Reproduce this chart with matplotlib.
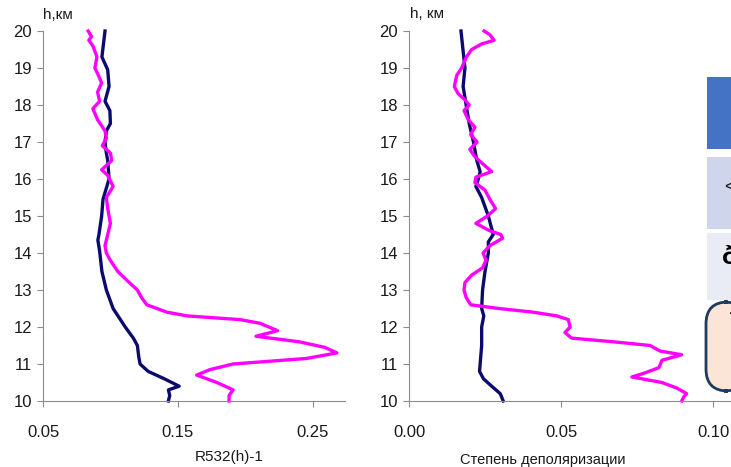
import matplotlib.pyplot as plt
from matplotlib.patches import Rectangle, FancyBboxPatch

plt.rcParams['font.family'] = ['Liberation Sans', 'DejaVu Sans']

# Left panel: backscatter ratio R532(h)-1
h_left_navy = [20.0, 19.3, 18.95, 18.5, 18.1, 17.85, 17.5, 17.3, 17.0, 16.7, 16.5, 16.0,
               15.45, 15.0, 14.5, 14.35, 14.05, 13.5, 13.0, 12.5, 12.0, 11.7, 11.5, 11.2,
               11.0, 10.8, 10.6, 10.4, 10.3, 10.15, 10.0]
x_left_navy = [0.096, 0.0937, 0.098, 0.099, 0.096, 0.0996, 0.100, 0.097, 0.096, 0.097, 0.098, 0.099,
               0.0945, 0.0935, 0.0915, 0.0907, 0.092, 0.0937, 0.097, 0.102, 0.111, 0.117, 0.120, 0.121,
               0.122, 0.128, 0.140, 0.151, 0.143, 0.144, 0.143]

h_left_mag = [20.0, 19.85, 19.75, 19.6, 19.3, 19.0, 18.85, 18.6, 18.35, 18.1, 17.9, 17.6, 17.3,
              17.1, 16.9, 16.7, 16.5, 16.25, 16.1, 15.8, 15.5, 15.2, 14.8, 14.5, 14.2, 14.0,
              13.8, 13.5, 13.2, 13.0, 12.8, 12.6, 12.4, 12.3, 12.2, 12.1, 11.9, 11.75, 11.6,
              11.45, 11.3, 11.15, 11.0, 10.85, 10.7, 10.5, 10.3, 10.15, 10.0]
x_left_mag = [0.0835, 0.086, 0.084, 0.087, 0.090, 0.0885, 0.0905, 0.0935, 0.0905, 0.092, 0.087, 0.0905, 0.096,
              0.097, 0.094, 0.100, 0.101, 0.0935, 0.098, 0.102, 0.097, 0.098, 0.100, 0.098, 0.096, 0.097,
              0.100, 0.1055, 0.114, 0.120, 0.123, 0.127, 0.142, 0.157, 0.196, 0.211, 0.224, 0.208, 0.240,
              0.259, 0.268, 0.2455, 0.191, 0.174, 0.164, 0.179, 0.191, 0.188, 0.188]

# Right panel: depolarization ratio
h_right_navy = [20.0, 19.0, 18.5, 18.0, 17.5, 17.0, 16.5, 16.2, 16.0, 15.8, 15.5, 15.0, 14.5,
                14.3, 14.0, 13.5, 13.0, 12.5, 12.3, 12.0, 11.5, 11.0, 10.8, 10.6, 10.4, 10.2, 10.0]
x_right_navy = [0.0171, 0.0184, 0.0178, 0.0188, 0.0198, 0.0212, 0.0223, 0.0234, 0.0228, 0.0220, 0.0239, 0.0261, 0.0277,
                0.0261, 0.0261, 0.0250, 0.0242, 0.0239, 0.0246, 0.0239, 0.0239, 0.0234, 0.0232, 0.0245, 0.0272, 0.0300, 0.0310]

h_right_mag = [20.0, 19.9, 19.75, 19.65, 19.5, 19.3, 19.0, 18.8, 18.5, 18.3, 18.15, 18.0, 17.85,
               17.6, 17.4, 17.2, 17.0, 16.8, 16.6, 16.4, 16.2, 16.05, 15.9, 15.7, 15.45, 15.2, 15.0,
               14.8, 14.6, 14.5, 14.4, 14.2, 14.0, 13.8, 13.6, 13.4, 13.2, 13.0, 12.8, 12.6, 12.5,
               12.4, 12.3, 12.2, 12.0, 11.85, 11.7, 11.6, 11.5, 11.35, 11.25, 11.1, 10.9, 10.75,
               10.65, 10.5, 10.35, 10.2, 10.1, 10.0]
x_right_mag = [0.0247, 0.0266, 0.0280, 0.0239, 0.0206, 0.0189, 0.0173, 0.0157, 0.0149, 0.0162, 0.0183, 0.0198, 0.0181,
               0.0195, 0.0217, 0.0203, 0.0224, 0.0200, 0.0217, 0.0244, 0.0272, 0.0220, 0.0217, 0.0250, 0.0266, 0.0285, 0.0258,
               0.0220, 0.0266, 0.0302, 0.0308, 0.0266, 0.0244, 0.0253, 0.0242, 0.0206, 0.0184, 0.0181, 0.0188, 0.0203, 0.0296,
               0.0409, 0.0486, 0.0524, 0.0530, 0.0513, 0.0535, 0.0672, 0.0793, 0.0826, 0.0897, 0.0832, 0.0822, 0.0773,
               0.0733, 0.0832, 0.0881, 0.0913, 0.0903, 0.0897]

h_ticks = list(range(10, 21))
left_xticks = [0.05, 0.15, 0.25]
right_xticks = [0.00, 0.05, 0.10]

navy = '#0b0b6e'
magenta = '#ff00ff'
spine_col = '#8c8c8c'

W, H = 731, 467
fig = plt.figure(figsize=(W / 100, H / 100), dpi=100)

ax1 = fig.add_axes([43 / W, 1 - 401 / H, (345 - 43) / W, 370 / H])
ax2 = fig.add_axes([409 / W, 1 - 401 / H, (W - 409) / W, 370 / H])

ax1.plot(x_left_navy, h_left_navy, color=navy, lw=2.4, clip_on=False)
ax1.plot(x_left_mag, h_left_mag, color=magenta, lw=2.4, clip_on=False)
ax2.plot(x_right_navy, h_right_navy, color=navy, lw=2.4, clip_on=False)
ax2.plot(x_right_mag, h_right_mag, color=magenta, lw=2.4, clip_on=False)

ax1.set_xlim(0.05, 0.274)
ax2.set_xlim(0.0, (W - 409) / 3040)
ax1.set_xticks(left_xticks)
ax1.set_xticklabels(['%.2f' % v for v in left_xticks])
ax2.set_xticks(right_xticks)
ax2.set_xticklabels(['%.2f' % v for v in right_xticks])

for ax in (ax1, ax2):
    ax.set_ylim(10, 20)
    ax.set_yticks(h_ticks)
    ax.spines['top'].set_visible(False)
    ax.spines['right'].set_visible(False)
    ax.spines['left'].set_color(spine_col)
    ax.spines['bottom'].set_color(spine_col)
    ax.tick_params(axis='y', direction='out', length=4, color=spine_col, labelsize=12, pad=4, labelcolor='#1a1a1a')
    ax.tick_params(axis='x', direction='out', length=4, color=spine_col, labelsize=12, pad=13, labelcolor='#1a1a1a')
    ax.patch.set_alpha(0)

# axis titles
fig.text(43 / W, 1 - 15 / H, 'h,км', fontsize=11, ha='left', va='center', color='#1a1a1a')
fig.text(410 / W, 1 - 14 / H, 'h, км', fontsize=11, ha='left', va='center', color='#1a1a1a')
fig.text(229 / W, 1 - 457 / H, 'R532(h)-1', fontsize=11, ha='center', va='center', color='#1a1a1a')
fig.text(543 / W, 1 - 460 / H, 'Степень деполяризации', fontsize=10.5, ha='center', va='center', color='#1a1a1a')

# fragments of the neighbouring table on the slide
fig.patches.append(Rectangle((707 / W, 1 - 149 / H), 30 / W, 72 / H, transform=fig.transFigure,
                             facecolor='#4472c4', edgecolor='none', zorder=0))
fig.patches.append(Rectangle((707 / W, 1 - 229 / H), 30 / W, 72 / H, transform=fig.transFigure,
                             facecolor='#cfd5ea', edgecolor='none', zorder=0))
fig.patches.append(Rectangle((707 / W, 1 - 300 / H), 30 / W, 67 / H, transform=fig.transFigure,
                             facecolor='#e9ebf5', edgecolor='none', zorder=0))
fig.patches.append(FancyBboxPatch((706 / W, 1 - 391 / H), 40 / W, 89 / H, transform=fig.transFigure,
                                  boxstyle='round,pad=0,rounding_size=0.03', mutation_aspect=W / H,
                                  facecolor='#fbe5d6', edgecolor='#1f3a5f', lw=2, zorder=3))
fig.text(724 / W, 1 - 188 / H, '<', fontsize=13, ha='left', va='center', color='#1a1a1a')
fig.text(722 / W, 1 - 257 / H, 'ð', fontsize=19, ha='left', va='center', color='black', fontweight='bold')
fig.text(728 / W, 1 - 313 / H, '·', fontsize=12, ha='left', va='center', color='#1a1a1a', zorder=4)

fig.savefig('out.png', dpi=100)
